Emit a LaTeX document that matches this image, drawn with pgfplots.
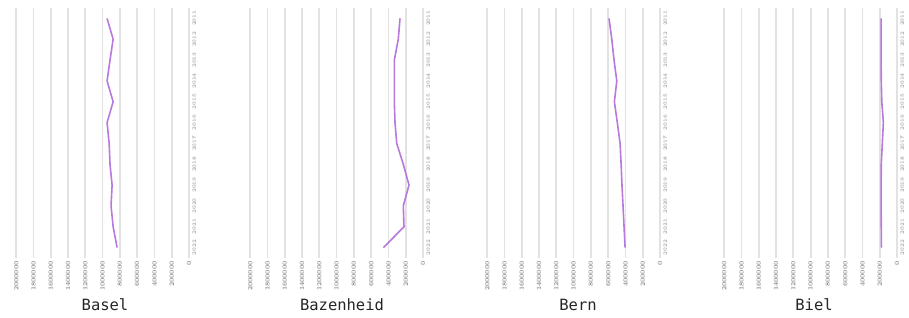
\documentclass[border=0pt]{standalone}
\usepackage{fontspec}
\usepackage{pgfplots}
\pgfplotsset{compat=1.18}
\newfontfamily\monofont{DejaVu Sans Mono}
\definecolor{gridc}{HTML}{E2E2E2}
\definecolor{linec}{HTML}{B878DD}
\definecolor{tickc}{HTML}{8C8C8C}
\pgfplotsset{panel/.style={
  scale only axis, width=178pt, height=250pt,
  xmin=0, xmax=10.3, ymin=0.5, ymax=12.5,
  x dir=reverse, y dir=reverse,
  axis line style={draw=none},
  xtick={0,1,...,10},
  xticklabels={0,200000,400000,600000,800000,1000000,1200000,1400000,1600000,1800000,2000000},
  ytick={1,...,12},
  yticklabels={2011,2012,2013,2014,2015,2016,2017,2018,2019,2020,2021,2022},
  yticklabel pos=right,
  major tick length=0pt,
  xmajorgrids,
  major grid style={draw=gridc, line width=1.8pt},
  xticklabel style={rotate=90, anchor=east, font=\fontsize{6.5}{6.5}\selectfont\bfseries, text=tickc},
  yticklabel style={rotate=90, anchor=north, font=\fontsize{5}{5}\selectfont\bfseries, text=tickc!80},
  clip=false,
}}
\begin{document}
\begin{tikzpicture}
\path[use as bounding box] (0,0) rectangle (909pt,318pt);
\begin{axis}[panel, at={(11pt,60pt)}, anchor=south west]
\addplot[linec, line width=1.6pt] coordinates {(4.74,1)(4.39,2)(4.57,3)(4.74,4)(4.39,5)(4.74,6)(4.62,7)(4.57,8)(4.45,9)(4.51,10)(4.39,11)(4.16,12)};
\end{axis}
\begin{axis}[panel, at={(245pt,60pt)}, anchor=south west]
\addplot[linec, line width=1.6pt] coordinates {(1.33,1)(1.43,2)(1.66,3)(1.66,4)(1.66,5)(1.62,6)(1.52,7)(1.14,8)(0.81,9)(1.14,10)(1.10,11)(2.29,12)};
\end{axis}
\begin{axis}[panel, at={(482pt,60pt)}, anchor=south west]
\addplot[linec, line width=1.6pt] coordinates {(2.95,1)(2.79,2)(2.66,3)(2.50,4)(2.64,5)(2.47,6)(2.31,7)(2.25,8)(2.20,9)(2.14,10)(2.08,11)(2.02,12)};
\end{axis}
\begin{axis}[panel, at={(719pt,60pt)}, anchor=south west]
\addplot[linec, line width=1.6pt] coordinates {(0.92,1)(0.92,2)(0.92,3)(0.91,4)(0.88,5)(0.79,6)(0.85,7)(0.91,8)(0.92,9)(0.92,10)(0.91,11)(0.90,12)};
\end{axis}
\node[font=\monofont\fontsize{15.5}{16}\selectfont, text=black!85] at (105pt,13pt) {Basel};
\node[font=\monofont\fontsize{15.5}{16}\selectfont, text=black!85] at (342pt,13pt) {Bazenheid};
\node[font=\monofont\fontsize{15.5}{16}\selectfont, text=black!85] at (578pt,13pt) {Bern};
\node[font=\monofont\fontsize{15.5}{16}\selectfont, text=black!85] at (814pt,13pt) {Biel};
\end{tikzpicture}
\end{document}
